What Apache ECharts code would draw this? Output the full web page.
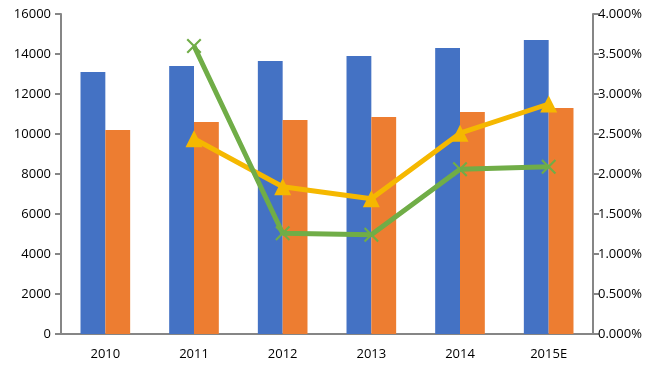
<!DOCTYPE html>
<html>
<head>
<meta charset="utf-8">
<script src="https://cdn.jsdelivr.net/npm/echarts@6/dist/echarts.min.js"></script>
<style>
  html, body { margin: 0; padding: 0; background: #fff; }
  #main { width: 661px; height: 376px; }
</style>
</head>
<body>
<div id="main"></div>
<script>
let years = ['2010', '2011', '2012', '2013', '2014', '2015E'];
let blueBars = [13100, 13400, 13650, 13900, 14300, 14700];
let orangeBars = [10200, 10600, 10700, 10850, 11100, 11300];
let yellowRate = [null, 2.44, 1.84, 1.69, 2.51, 2.875];
let greenRate = [null, 3.6, 1.26, 1.24, 2.06, 2.09];

let myChart = echarts.init(document.getElementById('main'));
let axisGray = '#868686';
let font = 'Open Sans';
let xMark = 'path://M0,1L1,0L5,4L9,0L10,1L6,5L10,9L9,10L5,6L1,10L0,9L4,5Z';

let option = {
    animation: false,
    grid: { left: 61, right: 68, top: 14, bottom: 42 },
    xAxis: {
        type: 'category',
        data: years,
        axisLine: { lineStyle: { color: axisGray, width: 2 } },
        axisTick: { length: 6, lineStyle: { color: axisGray, width: 2 } },
        axisLabel: { color: '#000', fontFamily: font, fontSize: 13, margin: 14 }
    },
    yAxis: [{
        type: 'value',
        min: 0,
        max: 16000,
        interval: 2000,
        splitLine: { show: false },
        axisLine: { show: true, lineStyle: { color: axisGray, width: 2 } },
        axisTick: { show: true, length: 6, lineStyle: { color: axisGray, width: 2 } },
        axisLabel: {
            color: '#000', fontFamily: font, fontSize: 13, margin: 10,
            formatter: function (v) { return String(v); }
        }
    }, {
        type: 'value',
        min: 0,
        max: 4,
        interval: 0.5,
        splitLine: { show: false },
        axisLine: { show: true, lineStyle: { color: axisGray, width: 2 } },
        axisTick: { show: true, length: 6, lineStyle: { color: axisGray, width: 2 } },
        axisLabel: {
            color: '#000', fontFamily: font, fontSize: 13, margin: 5,
            formatter: function (v) { return v.toFixed(3) + '%'; }
        }
    }],
    series: [{
        type: 'bar',
        data: blueBars,
        barGap: '0%',
        barCategoryGap: '44%',
        itemStyle: { color: '#4472C4' }
    }, {
        type: 'bar',
        data: orangeBars,
        itemStyle: { color: '#ED7D31' }
    }, {
        type: 'line',
        yAxisIndex: 1,
        data: yellowRate,
        symbol: 'triangle',
        symbolSize: 17,
        lineStyle: { color: '#F5B800', width: 5 },
        itemStyle: { color: '#F5B800' },
        z: 3
    }, {
        type: 'line',
        yAxisIndex: 1,
        data: greenRate,
        symbol: xMark,
        symbolSize: 15,
        lineStyle: { color: '#70AD47', width: 5 },
        itemStyle: { color: '#70AD47' },
        z: 4
    }]
};
myChart.setOption(option);
</script>
</body>
</html>
